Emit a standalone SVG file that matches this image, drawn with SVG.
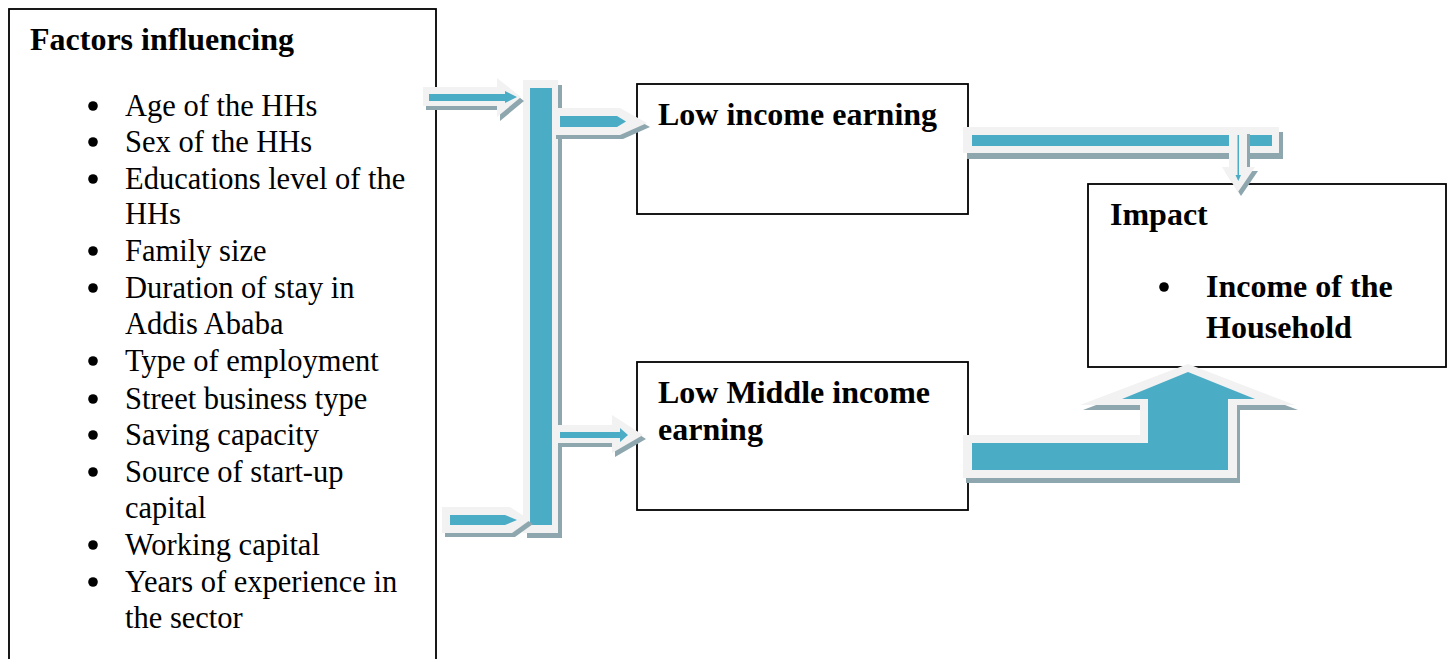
<svg xmlns="http://www.w3.org/2000/svg" width="1452" height="659" viewBox="0 0 1452 659">
<style>
.box{fill:#fff;stroke:#000;stroke-width:1.8}
.t{font-family:"Liberation Serif","Times New Roman",serif;font-size:30.5px;fill:#000}
.b{font-family:"Liberation Serif","Times New Roman",serif;font-size:32px;font-weight:bold;fill:#000}
.out{fill:#F2F2F2}
.sh{fill:#8EA7AF}
.in{fill:#4BACC6}
.dot{fill:#000}
</style>
<rect width="1452" height="659" fill="#fff"/>
<g id="factors">
<rect class="box" x="9" y="9" width="427" height="670"/>
<text class="b" x="30" y="50">Factors influencing</text>
<g class="dot">
<circle cx="93" cy="106" r="4.8"/><circle cx="93" cy="142" r="4.8"/><circle cx="93" cy="179" r="4.8"/>
<circle cx="93" cy="251" r="4.8"/><circle cx="93" cy="288" r="4.8"/><circle cx="93" cy="361" r="4.8"/>
<circle cx="93" cy="399" r="4.8"/><circle cx="93" cy="435" r="4.8"/><circle cx="93" cy="472" r="4.8"/>
<circle cx="93" cy="545" r="4.8"/><circle cx="93" cy="582" r="4.8"/>
</g>
<text class="t" x="125" y="116">Age of the HHs</text>
<text class="t" x="125" y="152">Sex of the HHs</text>
<text class="t" x="125" y="189">Educations level of the</text>
<text class="t" x="125" y="224">HHs</text>
<text class="t" x="125" y="261">Family size</text>
<text class="t" x="125" y="298">Duration of stay in</text>
<text class="t" x="125" y="334">Addis Ababa</text>
<text class="t" x="125" y="371">Type of employment</text>
<text class="t" x="125" y="409">Street business type</text>
<text class="t" x="125" y="445">Saving capacity</text>
<text class="t" x="125" y="482">Source of start-up</text>
<text class="t" x="125" y="518">capital</text>
<text class="t" x="125" y="555">Working capital</text>
<text class="t" x="125" y="592">Years of experience in</text>
<text class="t" x="125" y="628">the sector</text>
</g>
<g id="low">
<rect class="box" x="637" y="84" width="331" height="130"/>
<text class="b" x="658" y="125">Low income earning</text>
</g>
<g id="lowmiddle">
<rect class="box" x="637" y="362" width="331" height="148"/>
<text class="b" x="658" y="403">Low Middle income</text>
<text class="b" x="658" y="440">earning</text>
</g>
<g id="impact">
<rect class="box" x="1088" y="184" width="358" height="183"/>
<text class="b" x="1110" y="225">Impact</text>
<circle class="dot" cx="1164" cy="287" r="4.8"/>
<text class="b" x="1206" y="297">Income of the</text>
<text class="b" x="1206" y="338">Household</text>
</g>
<g id="connectors">
<!-- vertical bar -->
<rect class="sh" x="527" y="85" width="35" height="453"/>
<rect class="out" x="523" y="80" width="35" height="453"/>
<rect class="in" x="530" y="88" width="22" height="437"/>
<!-- top-left arrow -->
<g transform="translate(3,4)"><polygon class="sh" points="423,87 497,87 497,78 521,97 497,117 497,106 423,106"/></g>
<polygon class="out" points="423,87 497,87 497,78 521,97 497,117 497,106 423,106"/>
<polygon class="in" points="429,94 505,94 505,91 517,97 505,103 505,101 429,101"/>
<!-- bottom-left arrow -->
<g transform="translate(3,4)"><polygon class="sh" points="442,507 510,507 530,520 512,533 442,533"/></g>
<polygon class="out" points="442,507 510,507 530,520 512,533 442,533"/>
<polygon class="in" points="450,515 505,515 517,520 505,525 450,525"/>
<!-- arrow to low income -->
<g transform="translate(3,4)"><polygon class="sh" points="553,108 620,108 647,123 620,135 553,135"/></g>
<polygon class="out" points="553,108 620,108 647,123 620,135 553,135"/>
<polygon class="in" points="560,116 617,116 626,121.5 617,127 560,127"/>
<!-- arrow to low middle -->
<g transform="translate(3,4)"><polygon class="sh" points="555,425 612,425 612,415 643,435 612,453 612,443 555,443"/></g>
<polygon class="out" points="555,425 612,425 612,415 643,435 612,453 612,443 555,443"/>
<polygon class="in" points="560,432 620,432 620,428 628,435 620,442 620,438 560,438"/>
<!-- top-right long bar -->
<rect class="sh" x="967" y="132" width="316" height="27"/>
<rect class="out" x="963" y="127" width="316" height="26"/>
<rect class="in" x="972" y="135" width="300" height="11"/>
<!-- down arrow -->
<g transform="translate(3,4)"><polygon class="sh" points="1229,130 1247,130 1247,167 1255,167 1238,192 1222,167 1229,167"/></g>
<polygon class="out" points="1229,130 1247,130 1247,167 1255,167 1238,192 1222,167 1229,167"/>
<polygon class="in" points="1237.5,135 1239,135 1239,175 1241,175 1238.3,181 1235.5,175 1237.5,175"/>
<!-- elbow arrow up to impact -->
<g transform="translate(3,5)"><polygon class="sh" points="963,435 1140,435 1140,405 1080,405 1188,364 1295,405 1237,405 1237,478 963,478"/></g>
<polygon class="out" points="963,435 1140,435 1140,405 1080,405 1188,364 1295,405 1237,405 1237,478 963,478"/>
<polygon class="in" points="972,443 1148,443 1148,399 1122,399 1188,372 1255,399 1228,399 1228,470 972,470"/>
</g>
</svg>
